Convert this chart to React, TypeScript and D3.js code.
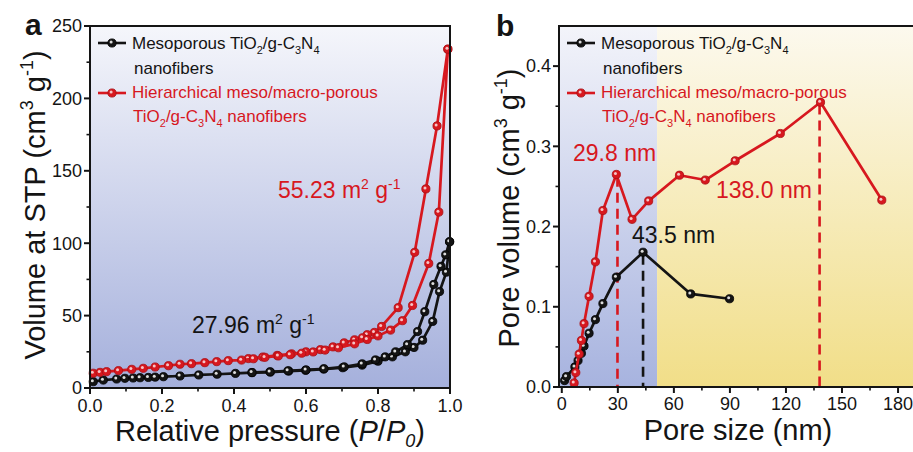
import React from 'react';
import * as d3 from 'd3';

// ---- panel a : N2 isotherms ----
const redAdsP = [0.009, 0.028, 0.046, 0.079, 0.116, 0.148, 0.181, 0.218, 0.25, 0.282, 0.319, 0.352, 0.384, 0.421, 0.454, 0.486, 0.523, 0.556, 0.588, 0.62, 0.653, 0.69, 0.735, 0.77, 0.8, 0.835, 0.868, 0.896, 0.941, 0.969, 0.994];
const redAdsV = [10.2, 10.8, 11.3, 12.0, 12.9, 13.6, 14.5, 15.4, 16.4, 16.8, 17.5, 18.2, 18.9, 19.3, 20.2, 21.2, 22.1, 23, 24, 24.9, 26.2, 27.8, 30.5, 33.5, 36, 40, 46.5, 57, 86, 121.5, 234];
const redDesP = [0.994, 0.964, 0.933, 0.902, 0.856, 0.81, 0.79, 0.77, 0.757, 0.735, 0.706, 0.675, 0.64, 0.6, 0.56, 0.52, 0.48, 0.44];
const redDesV = [234, 181, 137.5, 93.7, 55.5, 42.5, 38.4, 36.8, 34.7, 33.3, 31.2, 28.4, 26.5, 25, 23.6, 22.5, 21.4, 20.3];

const blkAdsP = [0.009, 0.037, 0.074, 0.097, 0.12, 0.139, 0.162, 0.181, 0.204, 0.25, 0.302, 0.353, 0.404, 0.45, 0.501, 0.552, 0.599, 0.649, 0.702, 0.756, 0.8, 0.84, 0.876, 0.9, 0.924, 0.952, 0.971, 0.99, 0.999];
const blkAdsV = [4.35, 5.5, 6.2, 6.7, 6.9, 7.1, 7.3, 7.5, 7.8, 8.3, 9.0, 9.5, 10.1, 10.6, 11.0, 11.7, 12.2, 13.1, 14.0, 15.8, 18.5, 21.5, 25, 28, 33, 46, 66.6, 80, 101];
const blkDesP = [0.999, 0.988, 0.975, 0.955, 0.93, 0.91, 0.882, 0.849, 0.82, 0.793, 0.756, 0.706, 0.65, 0.6, 0.55, 0.5, 0.45];
const blkDesV = [101, 92, 84, 71.5, 52.7, 39, 30, 25, 21.5, 19.4, 16.7, 14.6, 13.3, 12.5, 11.9, 11.2, 10.7];

// ---- panel b : pore size distribution ----
const redSize = [6.6, 7.5, 9.3, 10.5, 11.9, 14.6, 18, 22, 29.2, 37.6, 46.5, 63, 76.8, 92.8, 117, 138.5, 171.3];
const redPore = [0.005, 0.018, 0.041, 0.058, 0.079, 0.113, 0.156, 0.22, 0.265, 0.209, 0.232, 0.264, 0.258, 0.282, 0.316, 0.355, 0.233];
const blkSize = [1.5, 2.5, 7, 8.7, 10.5, 11.9, 14.6, 18, 22, 29.2, 43.5, 69, 89.8];
const blkPore = [0.008, 0.013, 0.025, 0.033, 0.042, 0.051, 0.067, 0.084, 0.104, 0.137, 0.168, 0.116, 0.11];

const peaks = [
  { size: 29.8, top: 0.262, color: 'red', label: '29.8 nm' },
  { size: 43.5, top: 0.165, color: 'black', label: '43.5 nm' },
  { size: 138.0, top: 0.352, color: 'red', label: '138.0 nm' },
];
const blueLimit = 51; // nm, edge of meso region shading

const RED = '#d7181f';
const BLK = '#141414';
const FONT = "Arial, 'Liberation Sans', sans-serif";

const zip = (xs: number[], ys: number[]) => xs.map((x, i) => [x, ys[i]] as [number, number]);

const Dot = ({ x, y, color }: { x: number; y: number; color: string }) => (
  <g>
    <circle cx={x} cy={y} r={4.1} fill={color} stroke={color === RED ? '#a80f14' : '#000'} strokeWidth={0.8} />
    <circle cx={x - 0.9} cy={y - 0.9} r={1.5} fill="#fff" opacity={color === RED ? 0.75 : 0.85} />
  </g>
);

const Series = ({ pts, xs, ys, color }: any) => {
  const line = d3.line<[number, number]>().x(d => xs(d[0])).y(d => ys(d[1]));
  return (
    <g>
      <path d={line(pts) || ''} fill="none" stroke={color} strokeWidth={2.7} strokeLinejoin="round" />
      {pts.map((d: [number, number], i: number) => (
        <Dot key={i} x={xs(d[0])} y={ys(d[1])} color={color} />
      ))}
    </g>
  );
};

const Chem = () => (
  <>
    TiO<tspan fontSize={11} dy={5}>2</tspan>
    <tspan dy={-5}>/g-C</tspan>
    <tspan fontSize={11} dy={5}>3</tspan>
    <tspan dy={-5}>N</tspan>
    <tspan fontSize={11} dy={5}>4</tspan>
  </>
);

const Legend = ({ x, y }: { x: number; y: number }) => (
  <g fontFamily={FONT} fontSize={17}>
    <line x1={x} x2={x + 28} y1={y} y2={y} stroke={BLK} strokeWidth={2.6} />
    <Dot x={x + 14} y={y} color={BLK} />
    <text x={x + 34} y={y + 6} fill={BLK}>
      Mesoporous <Chem />
    </text>
    <text x={x + 36} y={y + 31} fill={BLK}>nanofibers</text>
    <line x1={x} x2={x + 28} y1={y + 50} y2={y + 50} stroke={RED} strokeWidth={2.6} />
    <Dot x={x + 14} y={y + 50} color={RED} />
    <text x={x + 34} y={y + 55} fill={RED}>Hierarchical meso/macro-porous</text>
    <text x={x + 35} y={y + 79} fill={RED}>
      <Chem /> <tspan dy={-5}>nanofibers</tspan>
    </text>
  </g>
);

const Axes = ({ xs, ys, xMajor, xMinor, yMajor, yMinor, xFmt, yFmt, x0, y0, xEnd, yTop, xLabY, yLabX }: any) => (
  <g fontFamily={FONT} fill={BLK}>
    {yMinor.map((v: number) => (
      <line key={'ym' + v} x1={x0 - 3.5} x2={x0} y1={ys(v)} y2={ys(v)} stroke={BLK} strokeWidth={1.6} />
    ))}
    {yMajor.map((v: number) => (
      <g key={'y' + v}>
        <line x1={x0 - 6} x2={x0} y1={ys(v)} y2={ys(v)} stroke={BLK} strokeWidth={2} />
        <text x={yLabX} y={ys(v)} dy="0.35em" textAnchor="end" fontSize={18}>{yFmt(v)}</text>
      </g>
    ))}
    {xMinor.map((v: number) => (
      <line key={'xm' + v} x1={xs(v)} x2={xs(v)} y1={y0} y2={y0 + 3.5} stroke={BLK} strokeWidth={1.6} />
    ))}
    {xMajor.map((v: number) => (
      <g key={'x' + v}>
        <line x1={xs(v)} x2={xs(v)} y1={y0} y2={y0 + 6} stroke={BLK} strokeWidth={2} />
        <text x={xs(v)} y={xLabY} textAnchor="middle" fontSize={18}>{xFmt(v)}</text>
      </g>
    ))}
    <path d={`M${x0},${y0}V${yTop}H${xEnd}`} fill="none" stroke={BLK} strokeWidth={2} />
    <line x1={x0} x2={xEnd} y1={y0} y2={y0} stroke={BLK} strokeWidth={2} />
  </g>
);

const PanelA = () => {
  const xs = d3.scaleLinear().domain([0, 1]).range([90, 450]);
  const ys = d3.scaleLinear().domain([0, 250]).range([388, 26]);
  return (
    <g>
      <rect x={90} y={26} width={360} height={362} fill="url(#gradA)" />
      <Series pts={zip(blkAdsP, blkAdsV)} xs={xs} ys={ys} color={BLK} />
      <Series pts={zip(blkDesP, blkDesV)} xs={xs} ys={ys} color={BLK} />
      <Series pts={zip(redDesP, redDesV)} xs={xs} ys={ys} color={RED} />
      <Series pts={zip(redAdsP, redAdsV)} xs={xs} ys={ys} color={RED} />
      <path d={`M90,388V26H450V388`} fill="none" stroke={BLK} strokeWidth={2} />
      <Axes
        xs={xs} ys={ys}
        xMajor={d3.range(0, 1.01, 0.2)} xMinor={d3.range(0.1, 1, 0.2)}
        yMajor={d3.range(0, 251, 50)} yMinor={d3.range(25, 250, 50)}
        xFmt={d3.format('.1f')} yFmt={d3.format('d')}
        x0={90} y0={388} xEnd={450} yTop={26} xLabY={412} yLabX={82}
      />
      <Legend x={98} y={43} />
      <g fontFamily={FONT} fontSize={23}>
        <text x={278} y={198} fill={RED}>
          55.23 m<tspan fontSize={14} dy={-9}>2</tspan><tspan dy={9}> g</tspan>
          <tspan fontSize={14} dy={-9}>-1</tspan>
        </text>
        <text x={192} y={333} fill={BLK}>
          27.96 m<tspan fontSize={14} dy={-9}>2</tspan><tspan dy={9}> g</tspan>
          <tspan fontSize={14} dy={-9}>-1</tspan>
        </text>
      </g>
      <g fontFamily={FONT} fontSize={29} fill={BLK}>
        <text transform="translate(45,205) rotate(-90)" textAnchor="middle">
          Volume at STP (cm<tspan fontSize={18} dy={-12}>3</tspan>
          <tspan dy={12}> g</tspan><tspan fontSize={18} dy={-12}>-1</tspan><tspan dy={12}>)</tspan>
        </text>
        <text x={270} y={441} textAnchor="middle">
          Relative pressure (<tspan fontStyle="italic">P</tspan>/<tspan fontStyle="italic">P</tspan>
          <tspan fontSize={18} fontStyle="italic" dy={6}>0</tspan><tspan dy={-6}>)</tspan>
        </text>
      </g>
      <text x={25} y={35} fontFamily={FONT} fontWeight="bold" fontSize={30} fill={BLK}>a</text>
    </g>
  );
};

const PanelB = () => {
  const xs = d3.scaleLinear().domain([-1.5, 190]).range([559, 559 + 191.5 * 1.868]);
  const ys = d3.scaleLinear().domain([0, 0.45]).range([387, 26]);
  const xEdge = xs(blueLimit);
  return (
    <g>
      <rect x={559} y={26} width={xEdge - 559} height={361} fill="url(#gradBlue)" />
      <rect x={xEdge} y={26} width={925 - xEdge} height={361} fill="url(#gradYel)" />
      {peaks.map(p => (
        <line key={p.label} x1={xs(p.size)} x2={xs(p.size)} y1={ys(p.top)} y2={ys(0)}
          stroke={p.color === 'red' ? RED : BLK} strokeWidth={2.6} strokeDasharray="10 6" />
      ))}
      <Series pts={zip(blkSize, blkPore)} xs={xs} ys={ys} color={BLK} />
      <Series pts={zip(redSize, redPore)} xs={xs} ys={ys} color={RED} />
      <Axes
        xs={xs} ys={ys}
        xMajor={d3.range(0, 181, 30)} xMinor={d3.range(15, 190, 30)}
        yMajor={d3.range(0, 0.41, 0.1)} yMinor={d3.range(0.05, 0.41, 0.1)}
        xFmt={d3.format('d')} yFmt={d3.format('.1f')}
        x0={559} y0={387} xEnd={925} yTop={26} xLabY={410} yLabX={551}
      />
      <Legend x={567} y={43} />
      <g fontFamily={FONT} fontSize={23}>
        <text x={573} y={161} fill={RED}>29.8 nm</text>
        <text x={632} y={243} fill={BLK}>43.5 nm</text>
        <text x={716} y={198} fill={RED}>138.0 nm</text>
      </g>
      <g fontFamily={FONT} fontSize={29} fill={BLK}>
        <text transform="translate(519,208) rotate(-90)" textAnchor="middle">
          Pore volume (cm<tspan fontSize={18} dy={-12}>3</tspan>
          <tspan dy={12}> g</tspan><tspan fontSize={18} dy={-12}>-1</tspan><tspan dy={12}>)</tspan>
        </text>
        <text x={738} y={440} textAnchor="middle">Pore size (nm)</text>
      </g>
      <text x={496} y={36} fontFamily={FONT} fontWeight="bold" fontSize={30} fill={BLK}>b</text>
    </g>
  );
};

const App = () => (
  <svg width={913} height={452} style={{ position: 'absolute', left: 0, top: 0, background: '#fff' }}>
    <defs>
      <linearGradient id="gradA" x1="0" y1="0" x2="0" y2="1">
        <stop offset="0" stopColor="#f5f6fb" />
        <stop offset="1" stopColor="#a5b0dc" />
      </linearGradient>
      <linearGradient id="gradBlue" x1="0" y1="0" x2="0" y2="1">
        <stop offset="0" stopColor="#f3f4fa" />
        <stop offset="1" stopColor="#a7b3df" />
      </linearGradient>
      <linearGradient id="gradYel" x1="0" y1="0" x2="0" y2="1">
        <stop offset="0" stopColor="#fcf9ee" />
        <stop offset="1" stopColor="#f1de88" />
      </linearGradient>
    </defs>
    <PanelA />
    <PanelB />
  </svg>
);

export default App;
